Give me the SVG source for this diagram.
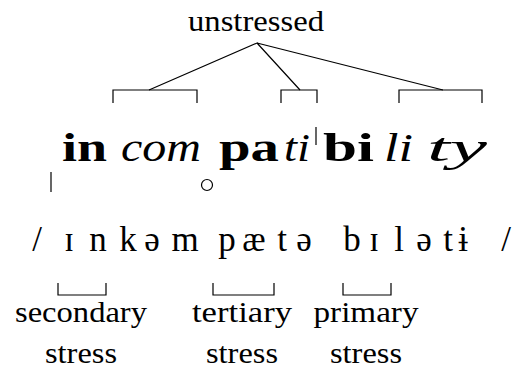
<svg xmlns="http://www.w3.org/2000/svg" width="519" height="380" viewBox="0 0 519 380" font-family="Liberation Serif">
<style>
text{font-family:"Liberation Serif";fill:#000}
.lbl{font-size:29px;text-anchor:middle}
.w{font-size:40px}
.b{font-weight:bold}
.i{font-style:italic}
.ipa{font-size:35px;text-anchor:middle}
.ln{stroke:#000;stroke-width:1.2;fill:none}
</style>
<rect width="519" height="380" fill="#fff"/>
<g id="unstressed"><text class="lbl" x="256" y="31" textLength="136" lengthAdjust="spacingAndGlyphs">unstressed</text></g>
<g id="connectors">
<path class="ln" d="M257 43L149 90M257 43L300 90M257 43L443 90"/>
<path class="ln" d="M113 103V90H197V103M281 103V90H317V103M399 103V90H482V103"/>
<path class="ln" d="M58 283V295H106V283M213 283V295H274V283M343 283V295H391V283"/>
</g>
<g id="word">
<line class="ln" x1="51" y1="172" x2="51" y2="192"/>
<text class="w b" x="62" y="161" textLength="45" lengthAdjust="spacingAndGlyphs">in</text>
<text class="w i" x="121" y="161" textLength="80" lengthAdjust="spacingAndGlyphs">com</text>
<circle class="ln" cx="207" cy="185" r="5.5"/>
<text class="w b" x="219" y="161" textLength="60" lengthAdjust="spacingAndGlyphs">pa</text>
<text class="w i" x="284" y="161" textLength="26" lengthAdjust="spacingAndGlyphs">ti</text>
<line class="ln" x1="316" y1="127" x2="316" y2="145"/>
<text class="w b" x="323" y="161" textLength="51" lengthAdjust="spacingAndGlyphs">bi</text>
<text class="w i" x="384" y="161" textLength="29" lengthAdjust="spacingAndGlyphs">li</text>
<text class="w i" x="427" y="161" textLength="60" lengthAdjust="spacingAndGlyphs">ty</text>
</g>
<g id="ipa">
<text class="ipa" x="37" y="251">/</text>
<text class="ipa" x="69" y="251">&#618;</text>
<text class="ipa" x="98" y="251">n</text>
<text class="ipa" x="128" y="251">k</text>
<text class="ipa" x="152" y="251">&#601;</text>
<text class="ipa" x="185" y="251">m</text>
<text class="ipa" x="227" y="251">p</text>
<text class="ipa" x="254" y="251">&#230;</text>
<text class="ipa" x="282" y="251">t</text>
<text class="ipa" x="304" y="251">&#601;</text>
<text class="ipa" x="352" y="251">b</text>
<text class="ipa" x="374" y="251">&#618;</text>
<text class="ipa" x="399" y="251">l</text>
<text class="ipa" x="424" y="251">&#601;</text>
<text class="ipa" x="448" y="251">t</text>
<text class="ipa" x="463" y="251">&#616;</text>
<text class="ipa" x="506" y="251">/</text>
</g>
<g id="secondary"><text class="lbl" x="81" y="322" textLength="132" lengthAdjust="spacingAndGlyphs">secondary</text><text class="lbl" x="81" y="363" textLength="72" lengthAdjust="spacingAndGlyphs">stress</text></g>
<g id="tertiary"><text class="lbl" x="242" y="322" textLength="100" lengthAdjust="spacingAndGlyphs">tertiary</text><text class="lbl" x="242" y="363" textLength="72" lengthAdjust="spacingAndGlyphs">stress</text></g>
<g id="primary"><text class="lbl" x="366" y="322" textLength="105" lengthAdjust="spacingAndGlyphs">primary</text><text class="lbl" x="366" y="363" textLength="72" lengthAdjust="spacingAndGlyphs">stress</text></g>
</svg>
